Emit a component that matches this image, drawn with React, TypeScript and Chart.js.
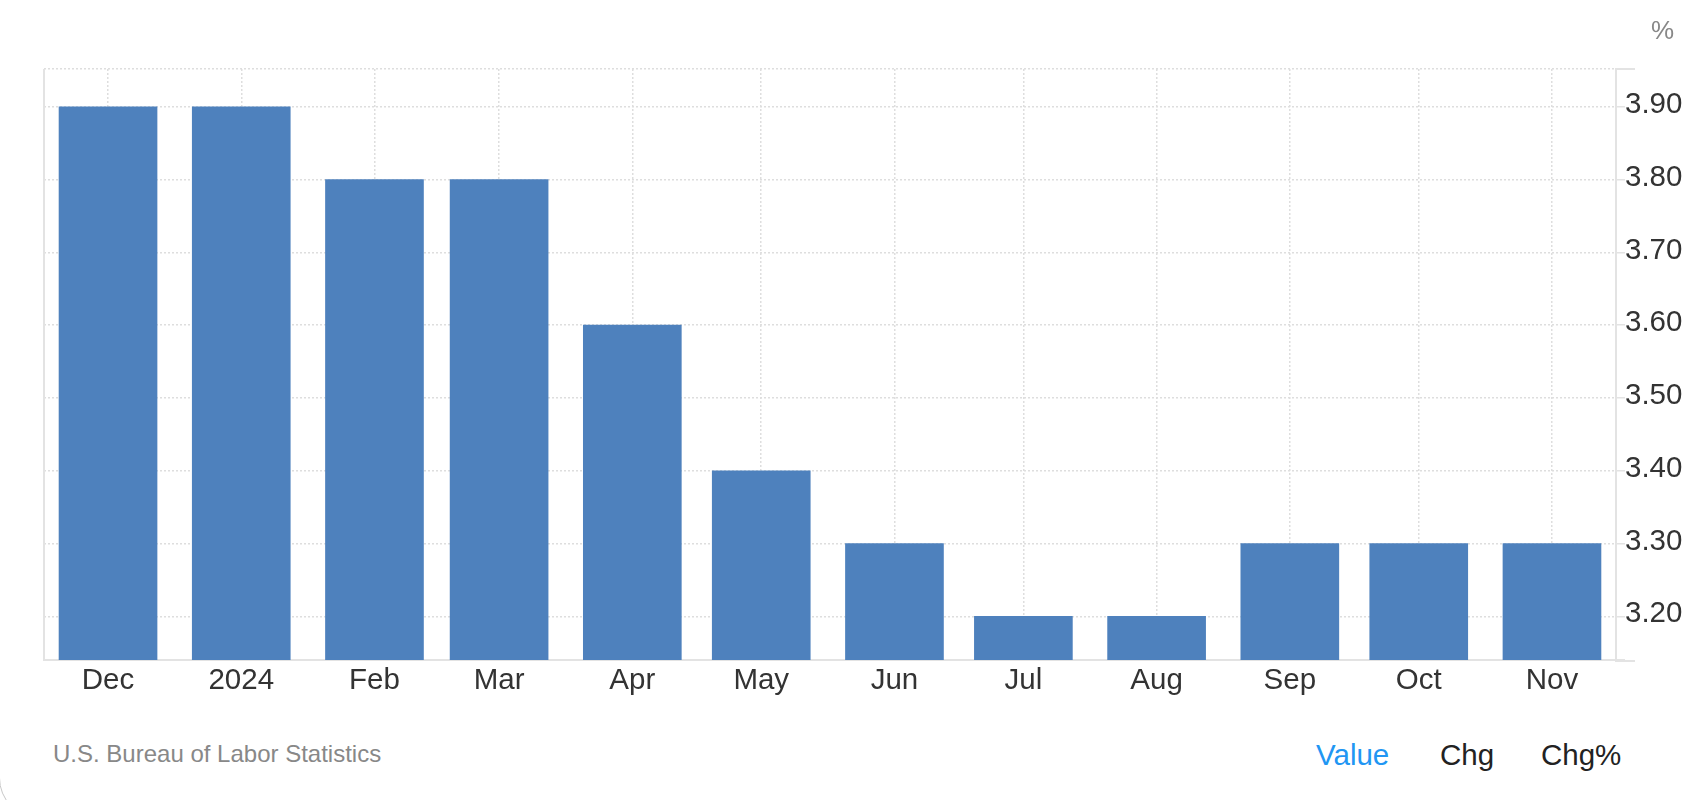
import React, { useEffect, useRef } from "react";
import { Chart, registerables } from "chart.js";

Chart.register(...registerables);

// ---- data ----
const monthDates = [
  "2023-12-01", "2024-01-01", "2024-02-01", "2024-03-01", "2024-04-01", "2024-05-01",
  "2024-06-01", "2024-07-01", "2024-08-01", "2024-09-01", "2024-10-01", "2024-11-01",
];
const monthLabels = ["Dec", "2024", "Feb", "Mar", "Apr", "May", "Jun", "Jul", "Aug", "Sep", "Oct", "Nov"];
const values = [3.9, 3.9, 3.8, 3.8, 3.6, 3.4, 3.3, 3.2, 3.2, 3.3, 3.3, 3.3];
const yTickValues = [3.2, 3.3, 3.4, 3.5, 3.6, 3.7, 3.8, 3.9];
const yMin = 3.14;
const yMax = 3.952;
const xPadDays = 14.9;

const DAY = 86400000;
const t0 = Date.parse(monthDates[0]);
const xs = monthDates.map((d) => (Date.parse(d) - t0) / DAY);

const FONT = "'Liberation Sans', Arial, Helvetica, sans-serif";
const AXIS = "#e3e3e3";
const GRID = "#dedede";

const framePlugin = {
  id: "frame",
  afterDraw(chart: any) {
    const { ctx, chartArea } = chart;
    const { left, right, top, bottom } = chartArea;
    ctx.save();
    ctx.strokeStyle = AXIS;
    ctx.lineWidth = 2;
    ctx.setLineDash([]);
    ctx.beginPath();
    ctx.moveTo(left, top);
    ctx.lineTo(left, bottom + 1);
    ctx.moveTo(right - 1, top);
    ctx.lineTo(right + 19, top);
    ctx.moveTo(right - 1, bottom + 1);
    ctx.lineTo(right + 19, bottom + 1);
    ctx.stroke();
    ctx.restore();
  },
};

function BarChart() {
  const ref = useRef<HTMLCanvasElement | null>(null);
  useEffect(() => {
    if (!ref.current) return;
    const chart = new Chart(ref.current, {
      type: "bar",
      data: {
        datasets: [
          {
            data: xs.map((x, i) => ({ x, y: values[i] })),
            backgroundColor: "#4e81bd",
            borderWidth: 0,
            barThickness: 98,
          } as any,
        ],
      },
      options: {
        animation: false,
        responsive: false,
        events: [],
        layout: { padding: { top: 69, left: 44, right: 0, bottom: 0 } },
        plugins: { legend: { display: false }, tooltip: { enabled: false } },
        scales: {
          x: {
            type: "linear",
            offset: false,
            min: xs[0] - xPadDays,
            max: xs[xs.length - 1] + xPadDays,
            afterBuildTicks: (scale: any) => {
              scale.ticks = xs.map((v) => ({ value: v }));
            },
            afterFit: (scale: any) => {
              scale.height = 60;
            },
            grid: { offset: false, color: GRID, lineWidth: 1.5, drawTicks: false },
            border: { display: true, color: AXIS, width: 2, dash: [2, 2] },
            ticks: {
              autoSkip: false,
              maxRotation: 0,
              padding: 3,
              color: "#333",
              font: { family: FONT, size: 29.5 },
              callback: (_v: any, i: number) => monthLabels[i],
            },
          },
          y: {
            type: "linear",
            position: "right",
            min: yMin,
            max: yMax,
            afterBuildTicks: (scale: any) => {
              scale.ticks = [yMin, ...yTickValues, yMax].map((v) => ({ value: v }));
            },
            afterFit: (scale: any) => {
              scale.width = 82;
            },
            grid: {
              color: (c: any) => (c.index === 0 ? "rgba(0,0,0,0)" : GRID),
              lineWidth: 1.5,
              tickLength: 9,
              tickColor: AXIS,
              tickWidth: 1.5,
              tickBorderDash: [],
            },
            border: { display: true, color: AXIS, width: 2, dash: [2, 2] },
            ticks: {
              padding: 0,
              labelOffset: -2,
              color: "#333",
              font: { family: FONT, size: 29.5 },
              callback: (v: any) => (yTickValues.includes(v) ? Number(v).toFixed(2) : ""),
            },
          },
        },
      } as any,
      plugins: [framePlugin],
    });
    return () => chart.destroy();
  }, []);
  return <canvas ref={ref} width={1698} height={720} style={{ position: "absolute", left: 0, top: 0 }} />;
}

export default function App() {
  const text = (extra: React.CSSProperties): React.CSSProperties => ({
    position: "absolute",
    whiteSpace: "nowrap",
    fontFamily: FONT,
    ...extra,
  });
  return (
    <div
      style={{
        position: "fixed",
        left: 0,
        top: 0,
        width: 1698,
        height: 800,
        background: "#fff",
        overflow: "hidden",
      }}
    >
      <div
        style={{
          position: "absolute",
          left: -1,
          top: -40,
          width: 1800,
          height: 858,
          border: "1px solid #c8c8c8",
          borderRadius: 40,
          boxSizing: "border-box",
        }}
      />
      <BarChart />
      <div style={text({ left: 1651, top: 17, fontSize: 26, lineHeight: "26px", color: "#888" })}>%</div>
      <div style={text({ left: 53, top: 742, fontSize: 24, lineHeight: "24px", color: "#888" })}>
        U.S. Bureau of Labor Statistics
      </div>
      <div style={text({ left: 1316, top: 740, fontSize: 29.5, lineHeight: "29.5px", color: "#2196f3" })}>Value</div>
      <div style={text({ left: 1440, top: 740, fontSize: 29.5, lineHeight: "29.5px", color: "#222" })}>Chg</div>
      <div style={text({ left: 1541, top: 740, fontSize: 29.5, lineHeight: "29.5px", color: "#222" })}>Chg%</div>
    </div>
  );
}
